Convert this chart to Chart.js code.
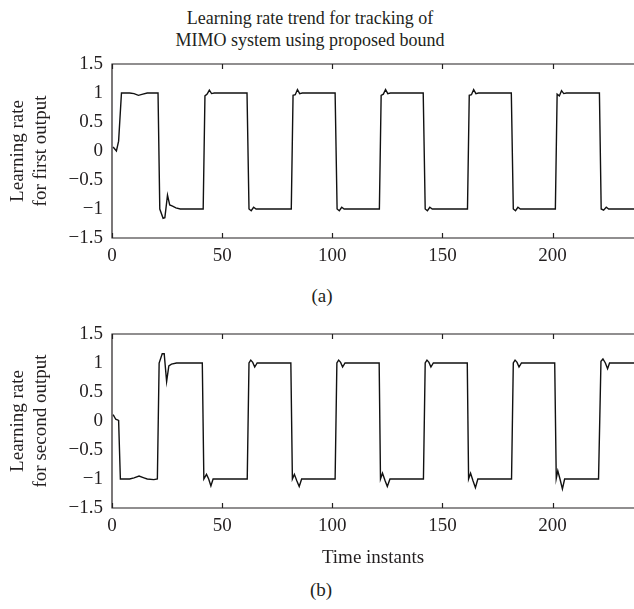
<!DOCTYPE html>
<html><head><meta charset="utf-8">
<script src="https://cdn.jsdelivr.net/npm/chart.js@4/dist/chart.umd.min.js"></script>
<style>
body{margin:0;background:#fff;width:634px;height:609px;overflow:hidden;position:relative;font-family:'Liberation Serif',serif;color:#231f20}
canvas{position:absolute;left:0}
.t{position:absolute;text-align:center;font-size:18px;line-height:22px;white-space:nowrap}
</style></head><body>
<div class="t" style="left:0;width:620px;top:7px">Learning rate trend for tracking of<br>MIMO system using proposed bound</div>
<div class="t" style="left:272px;width:100px;top:285px;font-size:19px">(a)</div>
<div class="t" style="left:271px;width:100px;top:579px;font-size:19px">(b)</div>
<canvas id="c1" width="634" height="300" style="top:0"></canvas>
<canvas id="c2" width="634" height="309" style="top:300px"></canvas>
<script>
// ---- data ----
const xTicks = [0, 50, 100, 150, 200];
const yTicks = [-1.5, -1, -0.5, 0, 0.5, 1, 1.5];
const yLabel1 = ['Learning rate', 'for first output'];
const yLabel2 = ['Learning rate', 'for second output'];
const xLabel = 'Time instants';

const t1 = [0.5, 2, 3, 4.3, 8, 10, 12, 14, 16, 20.9,
  21.7, 23.2, 24.0, 25.2, 26.2, 27.5, 29, 31, 41.4,
  42.2, 43.2, 44.2, 45.2, 46.4, 61.3,
  62.2, 63.2, 64.3, 65.4, 81.4,
  82.2, 83.2, 84.2, 85.2, 86.4, 101.3,
  102.2, 103.2, 104.3, 105.4, 121.4,
  122.2, 123.2, 124.2, 125.2, 126.4, 141.3,
  142.2, 143.2, 144.3, 145.4, 161.4,
  162.2, 163.2, 164.2, 165.2, 166.4, 181.3,
  182.2, 183.2, 184.3, 185.4, 201.3,
  202.1, 203.1, 204.1, 205.1, 206.3, 221.3,
  222.1, 223.2, 224.4, 225.5, 237];
const v1 = [0.07, 0.0, 0.17, 1.0, 1.0, 0.99, 0.96, 0.98, 1.0, 1.0,
  -1.0, -1.16, -1.15, -0.76, -0.93, -0.95, -0.98, -1.0, -1.0,
  0.95, 0.98, 1.05, 0.99, 1.0, 1.0,
  -1.0, -1.03, -0.97, -1.0, -1.0,
  0.96, 0.97, 1.06, 0.99, 1.0, 1.0,
  -1.0, -1.03, -0.97, -1.0, -1.0,
  0.96, 0.98, 1.06, 0.99, 1.0, 1.0,
  -1.0, -1.03, -0.97, -1.0, -1.0,
  0.96, 0.97, 1.06, 0.99, 1.0, 1.0,
  -1.0, -1.03, -0.97, -1.0, -1.0,
  0.98, 0.95, 1.04, 0.99, 1.0, 1.0,
  -1.0, -1.02, -0.97, -1.0, -1.0];

const t2 = [0.5, 1.7, 3.0, 3.8, 8, 10, 12.3, 14.5, 16, 19, 20.6,
  21.4, 22.8, 23.7, 24.8, 25.8, 27.0, 29.3, 41.0,
  41.7, 42.9, 43.9, 44.9, 45.9, 61.4,
  62.2, 63.0, 63.9, 64.8, 65.9, 81.2,
  81.9, 82.8, 83.9, 85.0, 86.1, 101.3,
  102.1, 102.9, 103.8, 104.7, 105.8, 121.3,
  121.9, 122.8, 124.0, 125.0, 126.2, 141.4,
  142.2, 143.0, 143.9, 144.8, 145.9, 161.3,
  161.9, 162.8, 163.9, 165.0, 166.1, 181.4,
  182.2, 183.0, 183.9, 184.8, 185.9, 201.0,
  201.7, 202.4, 203.4, 204.5, 205.5, 220.9,
  222.0, 222.9, 224.0, 225.0, 225.9, 237];
const v2 = [0.11, 0.03, 0.01, -1.0, -1.0, -0.98, -0.95, -0.98, -1.0, -1.01, -1.0,
  1.0, 1.16, 1.16, 0.68, 0.95, 0.98, 1.0, 1.0,
  -1.0, -0.92, -1.0, -1.12, -1.0, -1.0,
  1.0, 1.05, 1.01, 0.93, 1.0, 1.0,
  -1.0, -0.92, -1.03, -1.13, -1.0, -1.0,
  1.0, 1.05, 1.01, 0.93, 1.0, 1.0,
  -1.0, -0.9, -1.03, -1.13, -1.0, -1.0,
  1.0, 1.05, 1.01, 0.93, 1.0, 1.0,
  -1.0, -0.9, -1.03, -1.15, -1.0, -1.0,
  1.0, 1.05, 1.01, 0.93, 1.0, 1.0,
  -0.99, -0.86, -1.0, -1.17, -1.0, -1.0,
  1.03, 1.07, 1.0, 0.9, 1.0, 1.0];

// ---- drawing ----
const INK = '#231f20';
const FONT = {family: "'Liberation Serif', serif", size: 19};

const framePlugin = {
  id: 'frame',
  afterDraw(chart) {
    const {ctx, chartArea: {left, top, right, bottom}, scales: {x}} = chart;
    ctx.save();
    ctx.strokeStyle = INK;
    ctx.lineWidth = 1.2;
    ctx.beginPath();
    ctx.moveTo(chart.width, top); ctx.lineTo(left, top);
    ctx.lineTo(left, bottom); ctx.lineTo(chart.width, bottom);
    xTicks.forEach(v => {
      const px = Math.round(x.getPixelForValue(v)) + 0.5;
      ctx.moveTo(px, top); ctx.lineTo(px, top + 5);
      ctx.moveTo(px, bottom); ctx.lineTo(px, bottom - 5);
    });
    ctx.stroke();
    ctx.restore();
  }
};

function fmt(v) { return String(v).replace('-', '\u2212'); }

function makeChart(id, ts, vs, yLabel, padTop, xHeight, withXTitle) {
  return new Chart(document.getElementById(id), {
    type: 'line',
    data: {datasets: [{
      data: ts.map((t, i) => ({x: t, y: vs[i]})),
      borderColor: '#111', borderWidth: 1.4, pointRadius: 0, tension: 0, fill: false
    }]},
    options: {
      responsive: false, animation: false, devicePixelRatio: 1,
      layout: {padding: {top: padTop, left: 0, right: 0, bottom: 0}},
      plugins: {legend: {display: false}, tooltip: {enabled: false}},
      scales: {
        x: {
          type: 'linear', min: 0, max: 237,
          afterBuildTicks: s => { s.ticks = xTicks.map(v => ({value: v})); },
          afterFit: s => { s.height = xHeight; },
          grid: {display: false, drawTicks: false},
          border: {display: false},
          ticks: {font: FONT, color: INK, padding: 7, maxRotation: 0, autoSkip: false, callback: v => fmt(v)},
          title: withXTitle ? {display: true, text: xLabel, font: FONT, color: INK, padding: {top: 0, bottom: 40}} : {display: false}
        },
        y: {
          min: -1.5, max: 1.5,
          afterBuildTicks: s => { s.ticks = yTicks.map(v => ({value: v})); },
          afterFit: s => { s.width = 112; },
          grid: {display: false, drawTicks: false},
          border: {display: false},
          ticks: {font: FONT, color: INK, padding: 9, autoSkip: false, callback: v => fmt(v)},
          title: {display: true, text: yLabel, font: FONT, color: INK, padding: {top: 7, bottom: 0}}
        }
      }
    },
    plugins: [framePlugin]
  });
}

makeChart('c1', t1, v1, yLabel1, 64, 62, false);
makeChart('c2', t2, v2, yLabel2, 34, 101, true);
</script>
</body></html>
